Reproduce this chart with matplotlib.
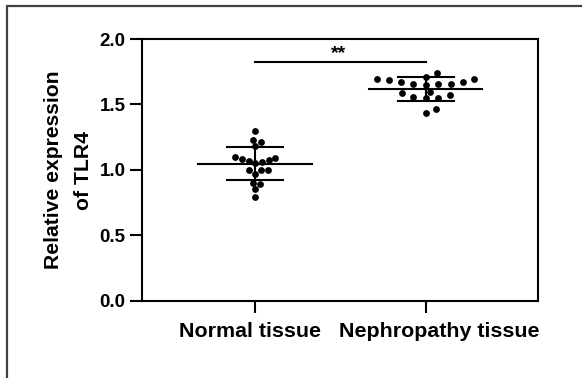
import numpy as np
import matplotlib
matplotlib.use("Agg")
import matplotlib.pyplot as plt
from matplotlib.patches import Rectangle

plt.rcParams['font.family'] = ['Liberation Sans', 'DejaVu Sans']
plt.rcParams['font.weight'] = 'bold'

# data
groups = ['Normal tissue', 'Nephropathy tissue']
normal_vals = [1.30, 1.23, 1.21, 1.18, 1.095, 1.09, 1.08, 1.075, 1.07, 1.06,
               1.055, 1.00, 1.00, 1.00, 0.97, 0.90, 0.89, 0.85, 0.79]
nephro_vals = [1.738, 1.713, 1.695, 1.695, 1.687, 1.672, 1.672, 1.657, 1.657,
               1.657, 1.649, 1.598, 1.585, 1.57, 1.56, 1.547, 1.547, 1.463, 1.433]
mean_vals = [1.047, 1.617]
sd_vals = [0.127, 0.089]
yticks = [0.0, 0.5, 1.0, 1.5, 2.0]
sig_text = '**'
ylabel = 'Relative expression\nof TLR4'


def swarm_offsets(ax, xc, vals, sx=7.0, sy=7.0):
    # simple beeswarm in pixel space (elliptic spacing), returns x in data units
    pts = ax.transData.transform(np.column_stack([np.full(len(vals), xc), vals]))
    placed = []
    xs = np.zeros(len(vals))
    for i in np.argsort(vals):
        x0, y0 = pts[i]
        k = 0
        while True:
            off = (k + 1) // 2 * 0.5 * (1 if k % 2 else -1)
            xx = x0 + off
            if all(((xx - px) / sx) ** 2 + ((y0 - py) / sy) ** 2 >= 1 for px, py in placed):
                break
            k += 1
        placed.append((xx, y0))
        xs[i] = ax.transData.inverted().transform((xx, y0))[0]
    return xs


fig = plt.figure(figsize=(5.82, 3.78), dpi=100)
ax = fig.add_axes([0.2435, 0.2045, 0.681, 0.6923])
ax.set_xlim(0.336, 2.658)
ax.set_ylim(0, 2.0)

xpos = [1, 2]
spacing = [6.7, 12.5]
for xc, vals, m, s, sx in zip(xpos, [normal_vals, nephro_vals], mean_vals, sd_vals, spacing):
    xs = swarm_offsets(ax, xc, vals, sx=sx)
    ax.scatter(xs, vals, s=24, color='black', zorder=3, linewidths=0)
    ax.plot([xc - 0.332, xc + 0.332], [m, m], color='black', lw=1.5, zorder=4)
    ax.plot([xc - 0.165, xc + 0.165], [m + s, m + s], color='black', lw=1.5, zorder=4)
    ax.plot([xc - 0.165, xc + 0.165], [m - s, m - s], color='black', lw=1.5, zorder=4)
    ax.plot([xc, xc], [m - s, m + s], color='black', lw=1.5, zorder=4)

# significance bar
ax.plot([1, 2], [1.827, 1.827], color='black', lw=1.5)
ax.text(1.49, 1.89, sig_text, ha='center', va='center', fontsize=14)

ax.set_xticks(xpos)
ax.set_xticklabels([])
# group names sit a little off-centre under the ticks, as in the original
for xc, name, dx in zip(xpos, groups, [-3.6, 9.4]):
    ax.annotate(name, xy=(xc, 0), xycoords=('data', 'axes fraction'),
                xytext=(dx, -15), textcoords='offset points',
                ha='center', va='top', fontsize=15.4, fontweight='bold')
ax.set_yticks(yticks)
ax.set_yticklabels([f'{v:.1f}' for v in yticks], fontsize=13.5, fontweight='bold')
ax.tick_params(axis='both', length=8.5, width=1.5, color='black')
ax.tick_params(axis='y', pad=3)
for sp in ax.spines.values():
    sp.set_linewidth(1.5)
    sp.set_color('black')

fig.text(68.3 / 582, 1 - 170 / 378, ylabel, rotation=90, ha='center', va='center',
         fontsize=15.2, fontweight='bold', linespacing=1.75, multialignment='center')

# outer frame of the panel
fig.patches.append(Rectangle((7 / 582, -0.1), 1.2, 1.1 - 6 / 378, transform=fig.transFigure,
                             fill=False, edgecolor='#404040', linewidth=1.6))

fig.savefig('out.png', dpi=100)
